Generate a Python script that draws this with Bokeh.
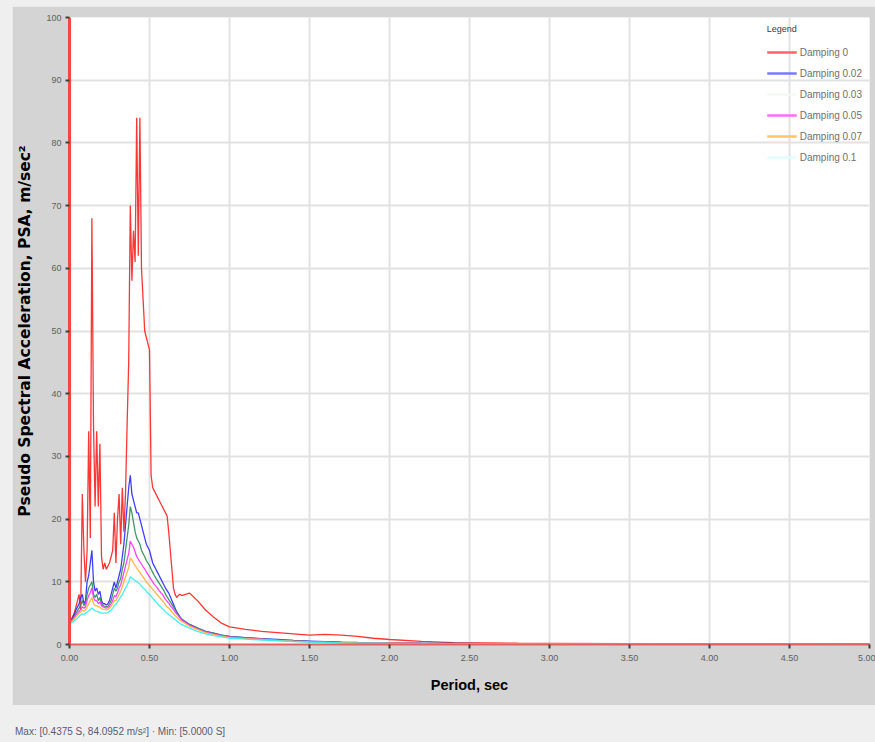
from bokeh.plotting import figure
from bokeh.models import (Range1d, FixedTicker, NumeralTickFormatter, Legend, LegendItem,
                          Div, GlobalInlineStyleSheet)
from bokeh.layouts import column
from bokeh.embed import file_html
from bokeh.resources import INLINE

periods = [0.01, 0.02, 0.03, 0.04, 0.05, 0.06, 0.07, 0.08, 0.09, 0.10,
           0.11, 0.12, 0.13, 0.14, 0.15, 0.16, 0.17, 0.18, 0.19, 0.20,
           0.21, 0.22, 0.23, 0.24, 0.25, 0.26, 0.27, 0.28, 0.29, 0.30,
           0.31, 0.32, 0.33, 0.34, 0.35, 0.36, 0.37, 0.38, 0.39, 0.40,
           0.41, 0.42, 0.43, 0.44, 0.45, 0.46, 0.47, 0.48, 0.49, 0.50,
           0.51, 0.52, 0.53, 0.54, 0.55, 0.56, 0.57, 0.58, 0.59, 0.60,
           0.61, 0.62, 0.63, 0.64, 0.65, 0.66, 0.67, 0.68, 0.69, 0.70,
           0.75, 0.80, 0.85, 0.90, 0.95, 1.00,
           1.10, 1.20, 1.30, 1.40, 1.50, 1.60, 1.70, 1.80, 1.90, 2.00,
           2.20, 2.40, 2.60, 2.80, 3.00, 3.50, 4.00, 4.50, 5.00]

psa_d0 = [3.5, 4.5, 5.0, 6.0, 7.0, 8.0, 5.5, 24.0, 15.0, 10.0,
          15.0, 34.0, 17.0, 68.0, 35.0, 22.0, 34.0, 22.0, 32.0, 14.0,
          12.0, 13.0, 12.0, 12.5, 13.0, 14.0, 15.0, 21.0, 13.0, 20.0,
          24.0, 16.0, 25.0, 18.0, 24.0, 35.0, 45.0, 70.0, 58.0, 66.0,
          61.0, 84.0, 62.0, 84.0, 60.0, 55.0, 50.0, 49.0, 48.0, 47.0,
          27.0, 25.0, 24.5, 24.0, 23.5, 23.0, 22.5, 22.0, 21.5, 21.0,
          20.5, 18.0, 15.0, 12.0, 9.0, 8.0, 7.5, 7.8, 8.0, 7.8,
          8.2, 7.0, 5.5, 4.4, 3.4, 2.8,
          2.4, 2.1, 1.9, 1.7, 1.5, 1.6, 1.5, 1.3, 1.0, 0.8,
          0.5, 0.3, 0.25, 0.2, 0.18, 0.14, 0.11, 0.09, 0.08]

psa_d002 = [4.0, 4.3, 4.8, 5.5, 6.0, 6.5, 7.5, 8.0, 6.5, 7.0,
            10.0, 11.0, 13.0, 15.0, 10.0, 8.5, 9.0, 8.0, 8.5, 7.0,
            6.5, 6.5, 6.3, 6.5, 7.0, 8.0, 9.0, 10.0, 9.0, 10.0,
            11.0, 12.0, 14.0, 16.0, 19.0, 22.0, 25.0, 27.0, 24.0, 23.0,
            22.0, 21.0, 21.0, 20.0, 19.0, 18.0, 17.0, 16.0, 15.5, 15.0,
            14.0, 13.0, 12.5, 12.0, 11.5, 11.0, 10.5, 10.0, 9.5, 9.0,
            8.6, 8.2, 7.6, 7.0, 6.4, 5.8, 5.2, 4.8, 4.4, 4.0,
            3.2, 2.6, 2.1, 1.8, 1.5, 1.3,
            1.1, 0.95, 0.8, 0.65, 0.55, 0.45, 0.38, 0.32, 0.28, 0.25,
            0.2, 0.17, 0.15, 0.13, 0.12, 0.09, 0.07, 0.06, 0.05]

psa_d003 = [3.8, 4.1, 4.5, 5.0, 5.4, 5.8, 6.3, 7.0, 6.2, 6.5,
            8.0, 9.0, 9.5, 10.0, 8.0, 7.5, 8.0, 7.0, 7.5, 6.5,
            6.2, 6.1, 6.0, 6.1, 6.5, 7.0, 8.0, 9.0, 8.5, 9.0,
            10.0, 10.5, 12.0, 13.0, 15.0, 17.0, 19.0, 22.0, 21.0, 19.5,
            18.0, 17.0, 16.5, 16.0, 15.0, 14.5, 14.0, 13.4, 13.0, 12.6,
            12.0, 11.5, 11.0, 10.6, 10.2, 9.8, 9.4, 9.0, 8.6, 8.0,
            7.6, 7.2, 6.8, 6.4, 6.0, 5.6, 5.2, 4.8, 4.4, 4.1,
            3.2, 2.6, 2.1, 1.8, 1.5, 1.3,
            1.05, 0.9, 0.75, 0.6, 0.5, 0.42, 0.35, 0.3, 0.26, 0.23,
            0.19, 0.16, 0.14, 0.12, 0.11, 0.09, 0.07, 0.05, 0.04]

psa_d005 = [3.7, 4.0, 4.3, 4.7, 5.0, 5.3, 5.6, 6.0, 5.8, 6.0,
            7.0, 7.8, 8.3, 9.0, 7.5, 7.0, 7.0, 6.5, 6.8, 6.2,
            6.0, 5.9, 5.8, 5.9, 6.1, 6.5, 7.0, 7.8, 7.6, 8.2,
            9.0, 9.5, 10.5, 11.5, 12.5, 13.5, 14.5, 16.5, 16.0, 15.5,
            14.8, 14.0, 13.6, 13.2, 12.8, 12.4, 12.0, 11.6, 11.2, 10.8,
            10.4, 10.0, 9.6, 9.3, 9.0, 8.6, 8.3, 8.0, 7.6, 7.2,
            6.9, 6.6, 6.2, 5.9, 5.6, 5.2, 4.9, 4.6, 4.3, 4.0,
            3.1, 2.5, 2.0, 1.7, 1.4, 1.2,
            1.0, 0.85, 0.7, 0.55, 0.45, 0.38, 0.32, 0.27, 0.24, 0.21,
            0.17, 0.15, 0.13, 0.11, 0.1, 0.08, 0.06, 0.05, 0.04]

psa_d007 = [3.6, 3.8, 4.1, 4.4, 4.7, 5.0, 5.2, 5.5, 5.3, 5.5,
            6.0, 6.5, 7.0, 7.5, 6.5, 6.2, 6.2, 6.0, 6.0, 5.7,
            5.6, 5.6, 5.5, 5.6, 5.8, 6.1, 6.5, 7.0, 7.0, 7.5,
            8.0, 8.5, 9.2, 10.0, 10.8, 11.5, 12.3, 13.8, 13.5, 13.0,
            12.6, 12.2, 11.8, 11.5, 11.1, 10.8, 10.4, 10.0, 9.7, 9.4,
            9.1, 8.8, 8.5, 8.2, 7.9, 7.6, 7.3, 7.0, 6.7, 6.3,
            6.0, 5.8, 5.5, 5.2, 4.9, 4.6, 4.4, 4.1, 3.9, 3.7,
            2.9, 2.4, 1.9, 1.6, 1.35, 1.15,
            0.95, 0.8, 0.65, 0.52, 0.42, 0.35, 0.3, 0.25, 0.22, 0.2,
            0.16, 0.14, 0.12, 0.1, 0.09, 0.07, 0.06, 0.05, 0.04]

psa_d01 = [3.4, 3.6, 3.8, 4.0, 4.2, 4.5, 4.7, 4.9, 4.8, 5.0,
           5.2, 5.4, 5.6, 5.8, 5.6, 5.4, 5.3, 5.2, 5.1, 5.0,
           5.0, 5.0, 5.0, 5.1, 5.3, 5.5, 5.8, 6.2, 6.4, 6.8,
           7.2, 7.6, 8.0, 8.5, 9.0, 9.5, 10.0, 10.8, 10.6, 10.4,
           10.2, 10.0, 9.8, 9.6, 9.3, 9.0, 8.8, 8.5, 8.2, 8.0,
           7.7, 7.4, 7.1, 6.8, 6.5, 6.2, 6.0, 5.7, 5.5, 5.2,
           5.0, 4.8, 4.6, 4.4, 4.2, 4.0, 3.8, 3.6, 3.4, 3.2,
           2.6, 2.1, 1.7, 1.4, 1.2, 1.0,
           0.85, 0.7, 0.6, 0.48, 0.38, 0.32, 0.27, 0.23, 0.2, 0.18,
           0.15, 0.13, 0.11, 0.1, 0.09, 0.07, 0.05, 0.04, 0.03]

series_labels = ["Damping 0", "Damping 0.02", "Damping 0.03",
                 "Damping 0.05", "Damping 0.07", "Damping 0.1"]
series_values = [psa_d0, psa_d002, psa_d003, psa_d005, psa_d007, psa_d01]
line_colors = ["#ff2020", "#2a2aff", "#2e8b57", "#ff30ff", "#ffb030", "#30f0f0"]
legend_colors = ["#ff6464", "#7a7aff", "#f2fbf2", "#ff6cff", "#ffc466", "#e2ffff"]

x_ticks = [0.0, 0.5, 1.0, 1.5, 2.0, 2.5, 3.0, 3.5, 4.0, 4.5, 5.0]
y_ticks = [0, 10, 20, 30, 40, 50, 60, 70, 80, 90, 100]

FONT = "Liberation Sans"
NAN = float("nan")

p = figure(width=863, height=699, output_backend="svg", toolbar_location=None,
           x_range=Range1d(0, 5), y_range=Range1d(0, 100),
           min_border_left=57, min_border_right=6, min_border_top=11, min_border_bottom=61)
p.margin = (6, 0, 0, 12)
p.background_fill_color = "white"
p.border_fill_color = "#d4d4d4"
p.outline_line_color = None

for vals, col in zip(series_values, line_colors):
    p.line(periods, vals, line_color=col, line_width=1.3, line_alpha=0.9)

items = []
for lab, col in zip(series_labels, legend_colors):
    r = p.line([NAN, NAN], [NAN, NAN], line_color=col, line_width=2.5)
    items.append(LegendItem(label=lab, renderers=[r]))

legend = Legend(items=items, location="top_right", title="Legend",
                title_text_font=FONT, title_text_font_size="9px", title_text_color="#404040",
                title_text_font_style="normal", title_standoff=12,
                label_text_font=FONT, label_text_font_size="10px", label_text_color="#707070",
                glyph_width=30, glyph_height=12, label_height=12, label_standoff=3,
                spacing=9, padding=4, margin=3,
                background_fill_alpha=0, border_line_alpha=0)
p.add_layout(legend)

p.xaxis.ticker = FixedTicker(ticks=x_ticks)
p.yaxis.ticker = FixedTicker(ticks=y_ticks)
p.xaxis.formatter = NumeralTickFormatter(format="0.00")
p.xgrid.ticker = FixedTicker(ticks=x_ticks)
p.ygrid.ticker = FixedTicker(ticks=y_ticks)
p.grid.grid_line_color = "#e2e2e2"
p.grid.grid_line_width = 2

for ax in (p.xaxis, p.yaxis):
    ax.major_label_text_font = FONT
    ax.major_label_text_font_size = "9px"
    ax.major_label_text_color = "#606060"
    ax.major_tick_line_color = "#404040"
    ax.major_tick_line_width = 2
    ax.major_tick_in = 0
    ax.major_tick_out = 4
    ax.minor_tick_line_color = None
    ax.axis_label_text_font_style = "bold"
    ax.axis_label_text_color = "black"

p.xaxis.axis_line_color = "#e06262"
p.xaxis.axis_line_width = 2
p.yaxis.axis_line_color = "#f04848"
p.yaxis.axis_line_width = 3
p.xaxis.major_label_standoff = 6
p.yaxis.major_label_standoff = 4
p.xaxis.axis_label = "Period, sec"
p.yaxis.axis_label = "Pseudo Spectral Acceleration, PSA, m/sec²"
p.xaxis.axis_label_text_font = FONT
p.xaxis.axis_label_text_font_size = "14.5px"
p.yaxis.axis_label_text_font = "DejaVu Sans"
p.yaxis.axis_label_text_font_size = "15.5px"
p.xaxis.axis_label_standoff = 13
p.yaxis.axis_label_standoff = 9

footer = Div(text="Max: [0.4375 S, 84.0952 m/s²] · Min: [5.0000 S]",
             width=875, height=36,
             styles={"font-family": FONT, "font-size": "10px", "color": "#5a5a70",
                     "padding-top": "15px", "padding-left": "10px",
                     "background-color": "#efefef", "box-sizing": "border-box"})

layout = column(p, footer, spacing=0)
layout.stylesheets = [GlobalInlineStyleSheet(css="body { background-color: #efefef; }")]

open("out.html", "w").write(file_html(layout, INLINE))
